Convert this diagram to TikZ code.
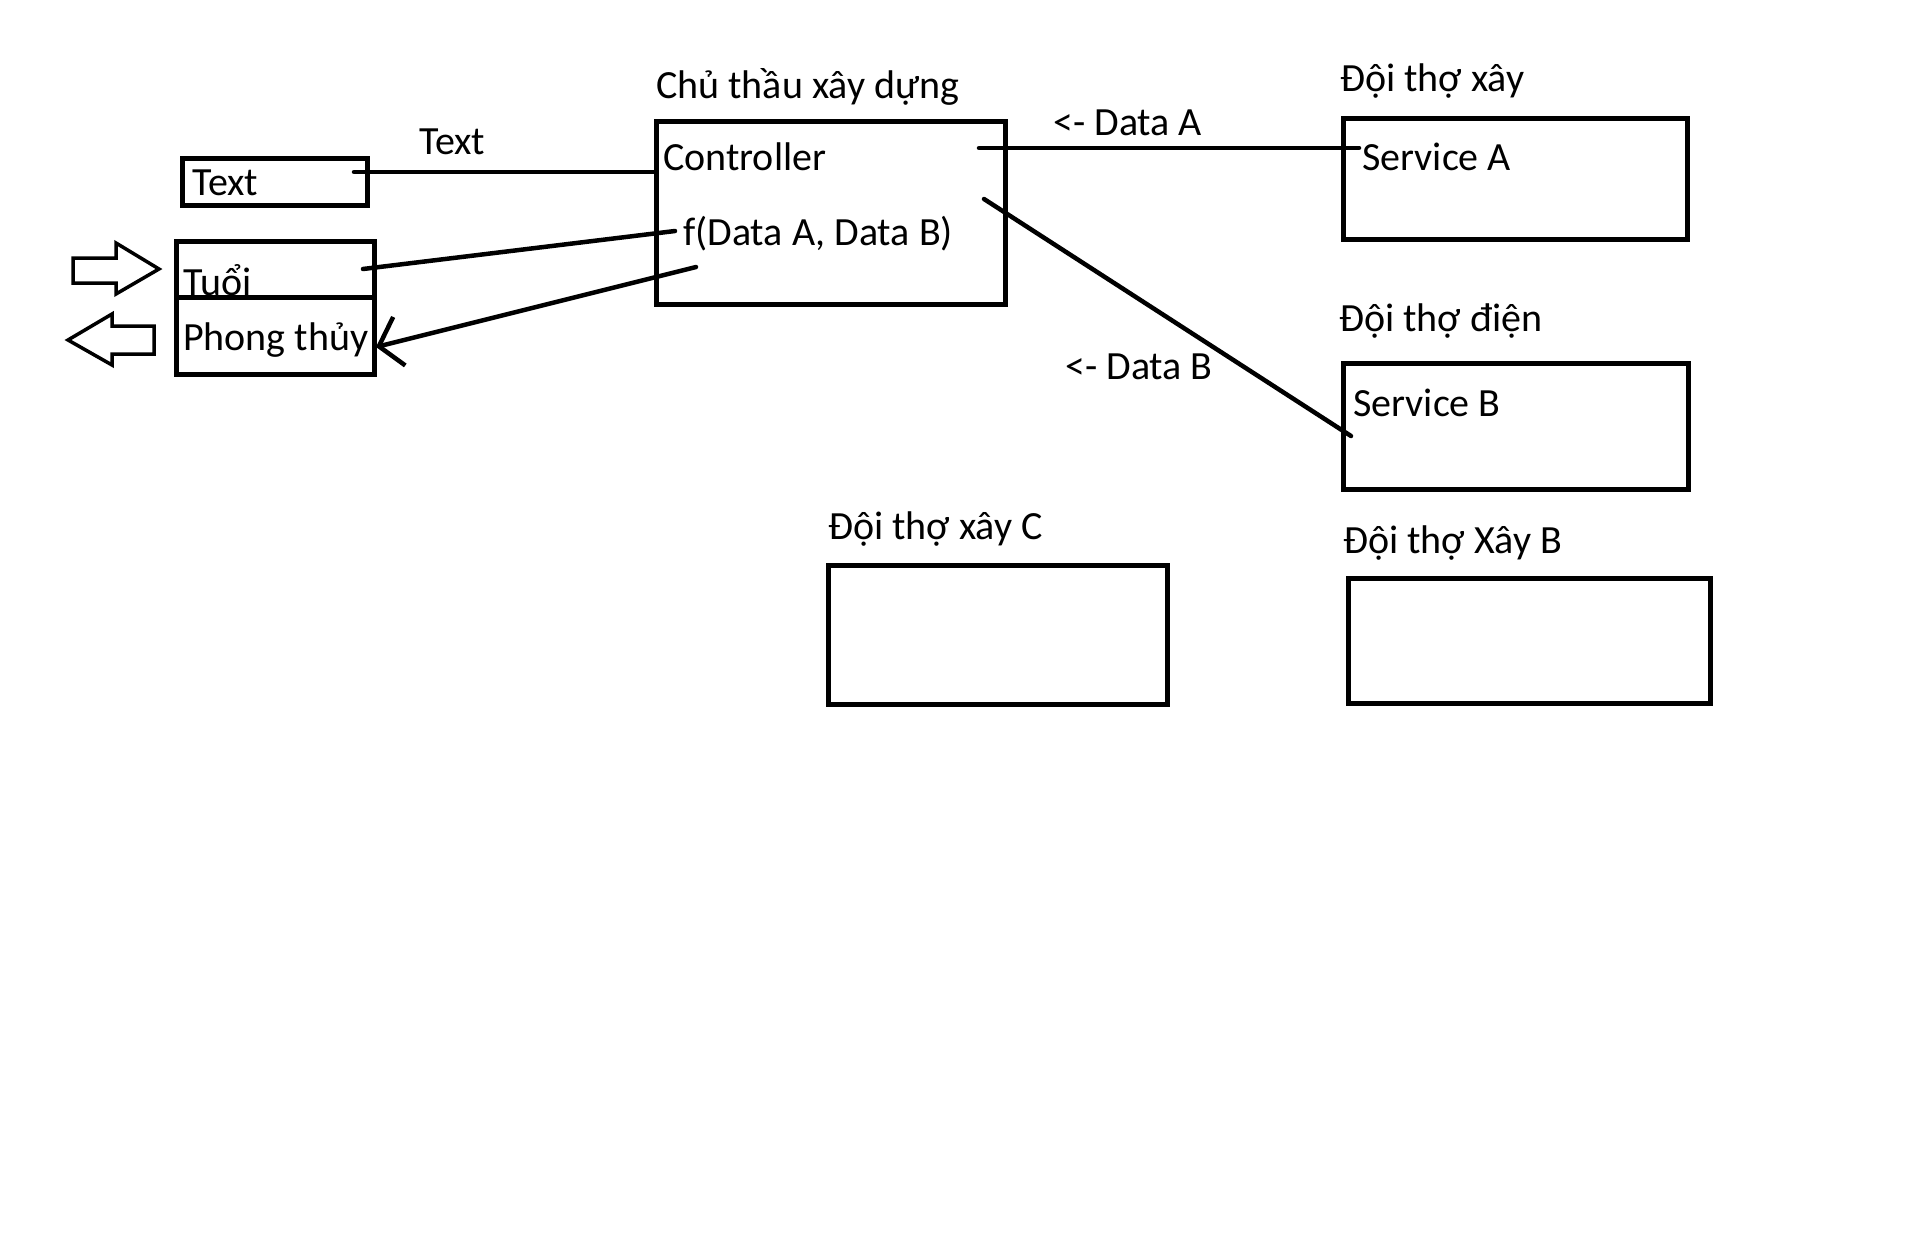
\documentclass[tikz,border=0pt]{standalone}
\usepackage{fontspec}
\setmainfont{Carlito}
\usetikzlibrary{positioning, arrows.meta}

\begin{document}
\begin{tikzpicture}[x=1pt, y=-1pt,
  box/.style={draw, line width=5pt, inner sep=0pt},
  lbl/.style={anchor=base west, inner sep=0pt, yshift=-2.5pt, font=\fontsize{40}{48}\selectfont},
  wire/.style={line width=4.5pt, line cap=round},
  hollow/.style={line width=3.5pt, line join=miter}]
\useasboundingbox (0,0) rectangle (1915,1240);
% boxes
\node[box, minimum width=185, minimum height=47] (txtbox) at (274.5,181.5) {};
\node[box, minimum width=198, minimum height=133] (tbox) at (275.5,307.5) {};
\draw[line width=5pt] (tbox.west) ++(0,-10.5) -- ++(198,0);
\node[box, minimum width=349, minimum height=183] (ctrl) at (830.5,212.5) {};
\node[box, minimum width=344, minimum height=121] (svcA) at (1515,178.5) {};
\node[box, minimum width=345, minimum height=126] (svcB) at (1515.5,426) {};
\node[box, minimum width=339, minimum height=139] (teamC) at (997.5,634.5) {};
\node[box, minimum width=362, minimum height=125] (teamXB) at (1529,640.5) {};
% texts
\node[lbl] (txt) at (192,193) {Text};
\node[lbl] (txtlink) at (419,152) {Text};
\node[lbl] (tuoi) at (183,293) {Tuổi};
\node[lbl] (phongthuy) at (183,348) {Phong thủy};
\node[lbl] (chuthau) at (656,96) {Chủ thầu xây dựng};
\node[lbl] (ctrllbl) at (663,168) {Controller};
\node[lbl] (flbl) at (683,243) {f(Data A, Data B)};
\node[lbl] (dataA) at (1053,133) {<- Data A};
\node[lbl] (doixay) at (1340,89) {Đội thợ xây};
\node[lbl] (svcAlbl) at (1362,168) {Service A};
\node[lbl] (doidien) at (1339,329) {Đội thợ điện};
\node[lbl] (dataB) at (1065,377) {<- Data B};
\node[lbl] (svcBlbl) at (1353,414) {Service B};
\node[lbl] (doiC) at (828,537) {Đội thợ xây C};
\node[lbl] (doiXB) at (1343,551) {Đội thợ Xây B};
% line ends
\coordinate (txtout) at (354,172);
\coordinate (tuoiout) at (363,269);
\coordinate (fin) at (675,231);
\coordinate (fout) at (696,267);
\coordinate (phin) at (376,347);
\coordinate (aout) at (979,148);
\coordinate (ain) at (1359,148);
\coordinate (bout) at (984,199);
\coordinate (bin) at (1351,436);
\draw[wire] (txtout) -- (ctrl.west |- txtout);
\draw[wire] (tuoiout) -- (fin);
\draw[wire, -{Straight Barb[length=21pt, width=50pt]}] (fout) -- (phin);
\draw[wire] (aout) -- (ain);
\draw[wire] (bout) -- (bin);
% in / out arrows
\draw[hollow] (73,258) -- (116,258) -- (116,243) -- (159,269) -- (116,294) -- (116,283) -- (73,283) -- cycle;
\draw[hollow] (68,340) -- (112,314) -- (112,326) -- (154,326) -- (154,354) -- (112,354) -- (112,365) -- cycle;
\end{tikzpicture}
\end{document}
